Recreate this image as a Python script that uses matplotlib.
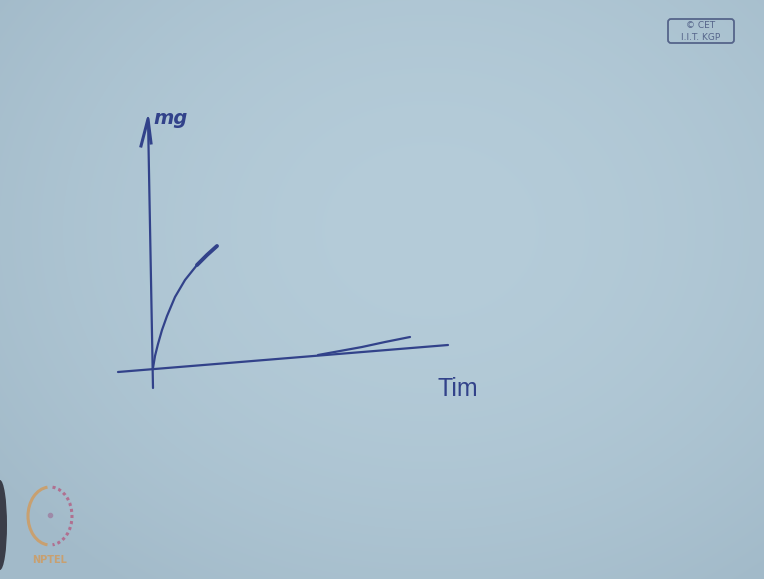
import numpy as np
import matplotlib.pyplot as plt
from matplotlib.patches import FancyBboxPatch, Arc, Ellipse

W, H = 764, 579

# Sketch strokes, in board (pixel-like) units
yaxis_x = [153, 148]
yaxis_y = [388, 118]
xaxis_x = [118, 448]
xaxis_y = [372, 345]
arrow_x = [141, 148, 151]
arrow_y = [146, 119, 143]
growth_t = [153, 155, 158, 162, 167, 175, 185, 197, 207, 217]
growth_m = [368, 356, 344, 330, 316, 297, 280, 265, 255, 246]
flat_t = [318, 340, 362, 385, 410]
flat_m = [355, 351, 347, 342, 337]

ink = '#32428a'
bg_center = np.array([181, 204, 217]) / 255
bg_edge = np.array([162, 186, 201]) / 255

fig = plt.figure(figsize=(W / 100, H / 100), dpi=100)
ax = fig.add_axes([0, 0, 1, 1])
ax.set_xlim(0, W)
ax.set_ylim(H, 0)
ax.axis('off')

# board background with soft falloff toward the edges
yy, xx = np.mgrid[0:H, 0:W]
r = np.sqrt(((xx - 430) / 540) ** 2 + ((yy - 230) / 440) ** 2)
f = np.clip(r, 0, 1)[..., None] ** 1.8
img = bg_center * (1 - f) + bg_edge * f
ax.imshow(img, extent=[0, W, H, 0], zorder=0)

lw = 1.6
ax.plot(yaxis_x, yaxis_y, color=ink, lw=lw, solid_capstyle='round', zorder=2)
ax.plot(xaxis_x, xaxis_y, color=ink, lw=lw, solid_capstyle='round', zorder=2)
ax.plot(arrow_x, arrow_y, color=ink, lw=2.2, solid_joinstyle='round', zorder=2)
ax.plot(growth_t, growth_m, color=ink, lw=lw, solid_capstyle='round', zorder=2)
ax.plot(growth_t[-3:], growth_m[-3:], color=ink, lw=2.8, solid_capstyle='round', zorder=2)
ax.plot(flat_t, flat_m, color=ink, lw=lw, solid_capstyle='round', zorder=2)

ax.text(153, 124, 'mg', color=ink, fontsize=14, fontstyle='italic',
        fontweight='bold', ha='left', va='baseline', zorder=3)
ax.text(437, 396, 'Tim', color=ink, fontsize=18, family='Liberation Sans',
        ha='left', va='baseline', zorder=3)

# CET IIT KGP badge
badge = FancyBboxPatch((668, 19), 66, 24, boxstyle='round,pad=0,rounding_size=3',
                       fc='none', ec='#55648a', lw=1.3, zorder=3)
ax.add_patch(badge)
ax.text(701, 26, '© CET', color='#55648a', fontsize=6.5, ha='center', va='center', zorder=3)
ax.text(701, 37, 'I.I.T. KGP', color='#55648a', fontsize=6.5, ha='center', va='center', zorder=3)

# NPTEL emblem
ax.add_patch(Ellipse((0, 525), 14, 90, fc='#3a3d48', ec='none', zorder=3))
ax.add_patch(Arc((50, 516), 44, 58, theta1=95, theta2=265, color='#c8a070', lw=2.2, zorder=3))
ax.add_patch(Arc((50, 516), 44, 58, theta1=-85, theta2=85, color='#b07090', lw=2.2,
                 linestyle=(0, (1, 1)), zorder=3))
ax.plot([50], [515], 'o', color='#9e8aa8', ms=3, zorder=3)
ax.text(50, 560, 'NPTEL', color='#c8a070', fontsize=7, fontweight='bold',
        ha='center', va='center', zorder=3)

fig.savefig('out.png', dpi=100)
